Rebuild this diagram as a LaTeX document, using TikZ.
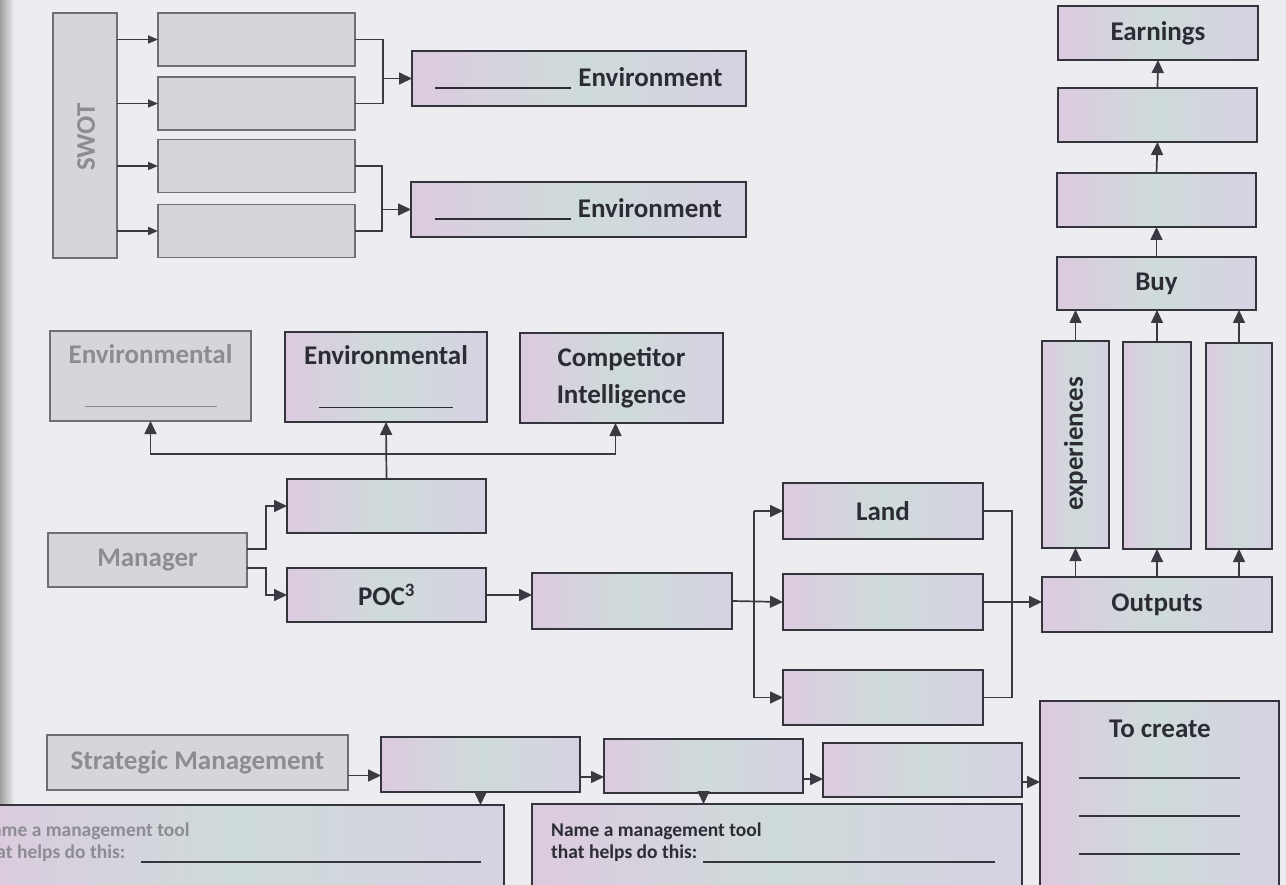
\documentclass[tikz,border=0pt]{standalone}
\usepackage{fontspec}
\setmainfont{Carlito}
\usetikzlibrary{arrows.meta,calc}
\definecolor{bgcol}{HTML}{EDEDF1}
\definecolor{boxline}{HTML}{34343C}
\definecolor{linecol}{HTML}{3A3A42}
\definecolor{txtcol}{HTML}{2C2C34}
\definecolor{irisA}{HTML}{DCCADF}
\definecolor{irisB}{HTML}{D6D2E2}
\definecolor{irisC}{HTML}{CFDBDA}
\definecolor{gfill}{HTML}{D6D6DA}
\definecolor{gline}{HTML}{6E6E74}
\definecolor{gtxt}{HTML}{8C8C92}
\tikzset{
  cbox/.style={draw=boxline, line width=1.7pt, shading=axis, left color=irisA, right color=irisB, middle color=irisC, inner sep=0pt, outer sep=0pt, text=txtcol, font=\fontsize{27}{30}\selectfont\bfseries},
  gbox/.style={draw=gline, line width=1.7pt, fill=gfill, inner sep=0pt, outer sep=0pt, text=gtxt, font=\fontsize{27}{30}\selectfont\bfseries},
  conn/.style={draw=linecol, line width=1.7pt},
  arr/.style={conn, -{Triangle[length=13pt,width=12pt]}},
  sarr/.style={conn, -{Triangle[length=10pt,width=8pt]}},
  lbl/.style={inner sep=0pt, text=txtcol, font=\fontsize{27}{30}\selectfont\bfseries},
  glbl/.style={inner sep=0pt, text=gtxt, font=\fontsize{27}{30}\selectfont\bfseries},
  small/.style={inner sep=0pt, text=txtcol, font=\fontsize{19.5}{22}\selectfont\bfseries, anchor=base west},
  gsmall/.style={inner sep=0pt, text=gtxt, font=\fontsize{19.5}{22}\selectfont\bfseries, anchor=base west},
  blank/.style={draw=boxline, line width=1.7pt}
}
\begin{document}
\begin{tikzpicture}[x=1pt,y=-1pt]
\useasboundingbox (0,0) rectangle (1286,885);
\clip (0,0) rectangle (1286,885);
\fill[bgcol] (0,0) rectangle (1286,885);
\shade[left color=gray!75, right color=bgcol] (0,0) rectangle (14,885);

% SWOT section
\node[gbox, minimum width=64pt, minimum height=245pt] (swot) at (85,135.5) {};
\node[glbl, rotate=90] (swott) at (86,137) {SWOT};
\node[gbox, minimum width=197pt, minimum height=53pt] (s1) at (256.5,39.5) {};
\node[gbox, minimum width=197pt, minimum height=53pt] (s2) at (256.5,103.5) {};
\node[gbox, minimum width=197pt, minimum height=53pt] (s3) at (256.5,166) {};
\node[gbox, minimum width=197pt, minimum height=53pt] (s4) at (256.5,231) {};
\node[cbox, minimum width=334pt, minimum height=55pt] (env1) at (579,78.5) {\rule[-2pt]{136pt}{1.7pt}\hspace{7pt}Environment};
\node[cbox, minimum width=335pt, minimum height=55pt] (env2) at (578.5,209.5) {\rule[-2pt]{136pt}{1.7pt}\hspace{7pt}Environment};

\foreach \s in {s1,s2,s3,s4} \draw[sarr] (swot.east |- \s.west) -- (\s.west);
\coordinate (j1) at (383,78.5);
\coordinate (j2) at (382,209.5);
\draw[conn] (s1.east) -| (j1) |- (s2.east);
\draw[arr] (j1) -- (env1.west);
\draw[conn] (s3.east) -| (j2) |- (s4.east);
\draw[arr] (j2) -- (env2.west);

% Middle section
\node[gbox, minimum width=201pt, minimum height=90pt, align=center] (ge) at (150.5,376) {Environmental\\[14pt]\rule{132pt}{1.7pt}};
\node[cbox, minimum width=202pt, minimum height=90pt, align=center] (ce) at (386,377) {Environmental\\[14pt]\rule{134pt}{1.7pt}};
\node[cbox, minimum width=203pt, minimum height=90pt, align=center] (comp) at (621.5,378) {Competitor\\[7pt]Intelligence};
\node[cbox, minimum width=199pt, minimum height=54pt] (bx) at (386.5,506) {};
\node[gbox, minimum width=199pt, minimum height=54pt] (mgr) at (147.5,560) {Manager};
\node[cbox, minimum width=199pt, minimum height=54pt] (poc) at (386.5,595) {POC\textsuperscript{3}};
\node[cbox, minimum width=200pt, minimum height=56pt] (m2) at (632,601) {};
\node[cbox, minimum width=200pt, minimum height=56pt] (land) at (883,511) {Land};
\node[cbox, minimum width=200pt, minimum height=56pt] (mid) at (883,602) {};
\node[cbox, minimum width=200pt, minimum height=55pt] (bot) at (883,697.5) {};

\coordinate (hl) at (0,454);
\coordinate (mk) at (266,0);
\coordinate (fk) at (754,0);
\coordinate (mg) at (1012,0);
\draw[arr] (bx.north) -- (ce.south);
\draw[arr] (bx.north |- hl) -| (ge.south);
\draw[arr] (bx.north |- hl) -| ([xshift=-6pt]comp.south);
\draw[arr] ([yshift=11pt]mgr.east) -| (mk |- bx.west) -- (bx.west);
\draw[arr] ([yshift=-8pt]mgr.east) -| (mk |- poc.west) -- (poc.west);
\draw[arr] (poc.east) -- (m2.west |- poc.east);
\draw[arr] (m2.east) -- (mid.west);
\draw[conn] (fk |- land.west) -- (fk |- bot.west);
\draw[arr] (fk |- land.west) -- (land.west);
\draw[arr] (fk |- bot.west) -- (bot.west);
\draw[conn] (land.east) -| (mg |- bot.east) -- (bot.east);

% Right column
\node[cbox, minimum width=230pt, minimum height=55pt] (outputs) at (1157,604.5) {Outputs};
\node[cbox, minimum width=67pt, minimum height=207pt] (col1) at (1075.5,444.5) {};
\node[lbl, rotate=90] (colt) at (1075.5,444) {experiences};
\node[cbox, minimum width=68pt, minimum height=207pt] (col2) at (1157,445.5) {};
\node[cbox, minimum width=66pt, minimum height=206pt] (col3) at (1239,446) {};
\node[cbox, minimum width=199pt, minimum height=53pt] (buy) at (1156.5,283.5) {Buy};
\node[cbox, minimum width=199pt, minimum height=54pt] (r3) at (1156.5,200) {};
\node[cbox, minimum width=199pt, minimum height=54pt] (r2) at (1157.5,115) {};
\node[cbox, minimum width=200pt, minimum height=54pt] (earn) at (1158,33) {Earnings};

\draw[arr] (mid.east) -- (outputs.west |- mid.east);
\foreach \c in {col1,col2,col3} {
  \draw[arr] (\c.south |- outputs.north) -- (\c.south);
  \draw[arr] (\c.north) -- (\c.north |- buy.south);
}
\draw[arr] (buy.north) -- (r3.south);
\draw[arr] (r3.north) -- (r2.south);
\draw[arr] (r2.north) -- (earn.south);

% Bottom section
\node[gbox, minimum width=301pt, minimum height=55pt] (sm) at (197.5,762.5) {Strategic Management};
\node[cbox, minimum width=199pt, minimum height=55pt] (a) at (480.5,764.5) {};
\node[cbox, minimum width=199pt, minimum height=54pt] (b) at (703.5,766) {};
\node[cbox, minimum width=199pt, minimum height=54pt] (c) at (922.5,770) {};
\node[cbox, minimum width=538pt, minimum height=95pt] (nl) at (235,852.5) {};
\node[cbox, minimum width=490pt, minimum height=96pt] (nm) at (777,852) {};
\node[cbox, minimum width=239pt, minimum height=199pt] (tc) at (1159.5,800.5) {};

\node[gsmall] (nl1) at (-21,836) {Name a management tool};
\node[gsmall] (nl2) at (-21,858) {that helps do this:};
\draw[blank] (141,862) -- (481,862);
\node[small] (nm1) at (551,836) {Name a management tool};
\node[small] (nm2) at (551,858) {that helps do this:};
\draw[blank] (703,862) -- (995,862);
\node[lbl, anchor=base] (tct) at (1160,737) {To create};
\draw[blank] (1079,778) -- (1240,778);
\draw[blank] (1079,816) -- (1240,816);
\draw[blank] (1079,854) -- (1240,854);

\coordinate (q1) at ($(sm.east)+(0,13)$);
\coordinate (q2) at ($(a.east)+(0,12.5)$);
\coordinate (q3) at ($(b.east)+(0,13)$);
\coordinate (q4) at ($(c.east)+(0,12)$);
\draw[arr] (q1) -- (q1 -| a.west);
\draw[arr] (q2) -- (q2 -| b.west);
\draw[arr] (q3) -- (q3 -| c.west);
\draw[arr] (q4) -- (q4 -| tc.west);
\draw[arr] (a.south) -- (a.south |- nl.north);
\draw[arr] (b.south) -- (b.south |- nm.north);
\end{tikzpicture}
\end{document}
